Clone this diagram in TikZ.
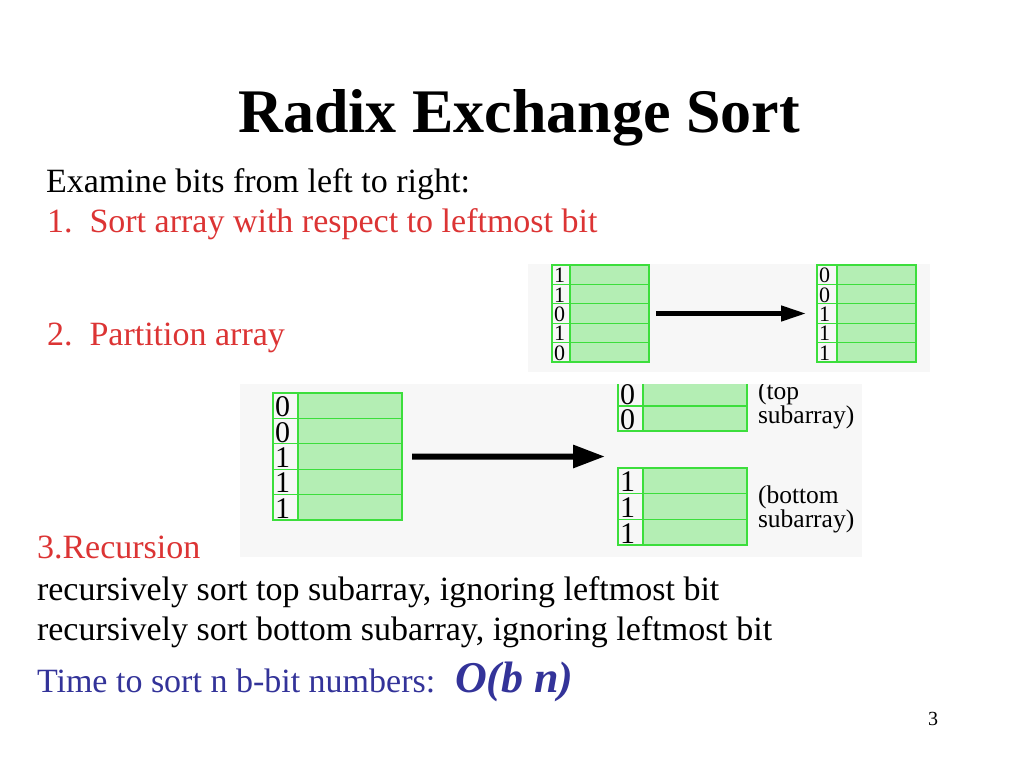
\documentclass[tikz,border=0pt]{standalone}
\usepackage{fontspec}
\setmainfont{Liberation Serif}
\usetikzlibrary{arrows.meta}
\definecolor{gfill}{RGB}{180,238,180}
\definecolor{gline}{RGB}{60,222,60}
\definecolor{bgray}{RGB}{247,247,247}
\definecolor{txtred}{RGB}{220,52,52}
\definecolor{txtblue}{RGB}{51,51,153}
\tikzset{
  txt/.style={anchor=base west, inner sep=0pt, outer sep=0pt},
  body/.style={txt, font=\fontsize{34}{40}\selectfont},
  redtxt/.style={body, text=txtred},
  bluetxt/.style={body, text=txtblue},
  sublabel/.style={txt, font=\fontsize{25.5}{28}\selectfont, text height=0.7em, text depth=0.2em},
  bitlabel/.style={anchor=base west, inner sep=0pt, outer sep=0pt, text height=0.66em, text depth=0pt},
  cellline/.style={draw=gline, line width=1.3pt},
  arrowsmall/.style={line width=4.5pt, -{Triangle[length=25pt,width=15pt]}},
  arrowbig/.style={line width=6pt, -{Triangle[length=32pt,width=22pt]}},
}
% name, x0, xsplit, x2, top, rowh, fontsize, bits, nrows
\newcommand{\BitArray}[9]{%
  \fill[gfill] (#3,#5) rectangle (#4,{#5+#9*#6});
  \foreach \b [count=\i from 0] in {#8}{%
    \draw[cellline] (#2,{#5+\i*#6}) rectangle (#4,{#5+(\i+1)*#6});
    \draw[cellline] (#3,{#5+\i*#6}) -- (#3,{#5+(\i+1)*#6});
    \node[bitlabel, font=\fontsize{#7}{#7}\selectfont] (#1-\i) at ({#2+2},{#5+(\i+1)*#6-1.8}) {\b};
  }
  \node[inner sep=0pt, outer sep=0pt, minimum width={(#4-#2)*1pt}, minimum height={#9*#6*1pt}, anchor=north west] (#1) at (#2,#5) {};
}
\begin{document}
\begin{tikzpicture}[x=1pt,y=-1pt]
  \useasboundingbox (0,0) rectangle (1024,768);
  \fill[white] (0,0) rectangle (1024,768);

  % title
  \node[anchor=base, inner sep=0pt, font=\fontsize{62}{70}\selectfont\bfseries] (title) at (519,132) {Radix Exchange Sort};

  % body text
  \node[body] (t1) at (46,192) {Examine bits from left to right:};
  \node[redtxt] (t2) at (47,232) {1.\ \ Sort array with respect to leftmost bit};
  \node[redtxt] (t3) at (47,345) {2.\ \ Partition array};
  \node[redtxt] (t4) at (37,558) {3.Recursion};
  \node[body] (t5) at (37,600) {recursively sort top subarray, ignoring leftmost bit};
  \node[body] (t6) at (37,640) {recursively sort bottom subarray, ignoring leftmost bit};
  \node[bluetxt] (t7) at (37,692) {Time to sort n b-bit numbers:};
  \node[txt, text=txtblue, font=\fontsize{44}{48}\selectfont\bfseries\itshape] (t8) at (455,692) {O(b n)};
  \node[txt, font=\fontsize{20}{22}\selectfont] (pagenum) at (928,725) {3};

  % diagram 1
  \fill[bgray] (528,264) rectangle (930,372);
  \BitArray{L1}{552}{570}{649}{265}{19.4}{22}{1,1,0,1,0}{5}
  \BitArray{R1}{817}{837}{916}{265}{19.4}{22}{0,0,1,1,1}{5}
  \draw[arrowsmall, shorten <=7pt, shorten >=11pt] (L1.east) -- (R1.east -| R1.west);

  % diagram 2
  \begin{scope}
    \clip (240,384) rectangle (862,557);
    \fill[bgray] (240,384) rectangle (862,557);
    \BitArray{L2}{273}{298}{402}{393}{25.4}{30}{0,0,1,1,1}{5}
    \BitArray{T2}{618}{643}{747}{381}{25}{30}{0,0}{2}
    \BitArray{B2}{618}{643}{747}{468}{25.7}{30}{1,1,1}{3}
    \node[sublabel] (toplab1) at (758,399) {(top};
    \node[sublabel] (toplab2) at (758,423) {subarray)};
    \node[sublabel] (botlab1) at (758,503) {(bottom};
    \node[sublabel] (botlab2) at (758,527) {subarray)};
  \end{scope}
  \coordinate (split) at (605,456.5);
  \draw[arrowbig, shorten <=10pt] (L2.east) -- (split);
\end{tikzpicture}
\end{document}
